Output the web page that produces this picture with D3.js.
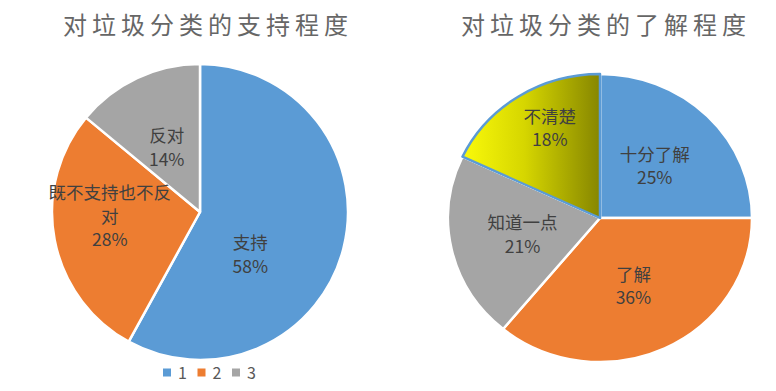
<!DOCTYPE html>
<html>
<head>
<meta charset="utf-8">
<script src="https://cdn.jsdelivr.net/npm/d3@7"></script>
<style>
html,body{margin:0;padding:0;background:#fff;}
svg{display:block;}
</style>
</head>
<body>
<svg id="chart" width="776" height="391"></svg>
<script>
// ---- data ----
const title1 = "对垃圾分类的支持程度";
const cats1 = ["支持", "既不支持也不反对", "反对"];
const vals1 = [58, 28, 14];
const labelLines1 = [["支持"], ["既不支持也不反", "对"], ["反对"]];

const title2 = "对垃圾分类的了解程度";
const cats2 = ["十分了解", "了解", "知道一点", "不清楚"];
const vals2 = [25, 36, 21, 18];

const legendLabels = ["1", "2", "3"];

// ---- style / layout ----
const colors1 = ["#5B9BD5", "#ED7D31", "#A5A5A5"];
const colors2 = ["#5B9BD5", "#ED7D31", "#A5A5A5", "url(#yellowGrad)"];
const font = "'Noto Sans CJK SC', 'Noto Sans', sans-serif";
// label block centres relative to pie centre, as fractions of radius
const labelOff1 = [[0.34, 0.29], [-0.61, 0.03], [-0.225, -0.435]];
const labelOff2 = [[0.36, -0.34], [0.22, 0.45], [-0.51, 0.11], [-0.33, -0.59]];

const svg = d3.select("#chart");
const defs = svg.append("defs");
const grad = defs.append("linearGradient").attr("id", "yellowGrad")
  .attr("x1", "0").attr("y1", "0").attr("x2", "1").attr("y2", "0");
grad.append("stop").attr("offset", "0").attr("stop-color", "#FAFA0A");
grad.append("stop").attr("offset", "0.45").attr("stop-color", "#D6D600");
grad.append("stop").attr("offset", "1").attr("stop-color", "#868600");

const pie = d3.pie().sort(null).value(d => d);

function drawPie(cfg) {
  const sy = cfg.ry / cfg.r;
  const gOuter = svg.append("g").attr("transform", `translate(${cfg.cx},${cfg.cy})`);
  const g = gOuter.append("g").attr("transform", `scale(1,${sy})`);
  const arc = d3.arc().innerRadius(0).outerRadius(cfg.r);
  const arcs = pie(cfg.values);
  g.selectAll("path.slice").data(arcs).join("path")
    .attr("class", "slice")
    .attr("d", arc)
    .attr("fill", (d, i) => cfg.colors[i])
    .attr("stroke", "#fff")
    .attr("stroke-width", 2.5)
    .attr("stroke-linejoin", "round");
  if (cfg.highlight != null) {
    g.append("path").datum(arcs[cfg.highlight])
      .attr("d", arc)
      .attr("fill", cfg.colors[cfg.highlight])
      .attr("stroke", "#5B9BD5")
      .attr("stroke-width", 2.5)
      .attr("stroke-linejoin", "round");
  }
  arcs.forEach((d, i) => {
    const lines = cfg.lines[i].concat([d.data + "%"]);
    const [fx, fy] = cfg.labelOff[i];
    const x = fx * cfg.r, yc = fy * cfg.r;
    const lh = 23.5;
    const y0 = yc - (lines.length - 1) * lh / 2;
    const t = gOuter.append("text")
      .attr("text-anchor", "middle")
      .attr("font-family", font)
      .attr("font-size", 17.5)
      .attr("fill", "#404040");
    lines.forEach((ln, k) => {
      t.append("tspan").attr("x", x).attr("y", y0 + k * lh).attr("dy", "0.35em").text(ln);
    });
  });
  svg.append("text")
    .attr("x", cfg.cx + cfg.titleDx).attr("y", 27)
    .attr("text-anchor", "middle")
    .attr("dominant-baseline", "middle")
    .attr("font-family", font)
    .attr("font-size", 24)
    .attr("letter-spacing", 5)
    .attr("fill", "#666666")
    .text(cfg.title);
}

drawPie({cx: 200, cy: 212, r: 148, ry: 148, values: vals1, colors: colors1,
  lines: labelLines1, labelOff: labelOff1, title: title1, titleDx: 8});
drawPie({cx: 600, cy: 218, r: 152, ry: 144, values: vals2, colors: colors2,
  lines: cats2.map(c => [c]), labelOff: labelOff2, title: title2, titleDx: 6, highlight: 3});

// legend
const lg = svg.append("g");
legendLabels.forEach((l, i) => {
  const x = 163 + i * 34.5;
  lg.append("rect").attr("x", x).attr("y", 368.5).attr("width", 8).attr("height", 8)
    .attr("fill", colors1[i]);
  lg.append("text").attr("x", x + 15).attr("y", 373).attr("dy", "0.36em")
    .attr("font-family", font).attr("font-size", 16).attr("fill", "#595959").text(l);
});
</script>
</body>
</html>
